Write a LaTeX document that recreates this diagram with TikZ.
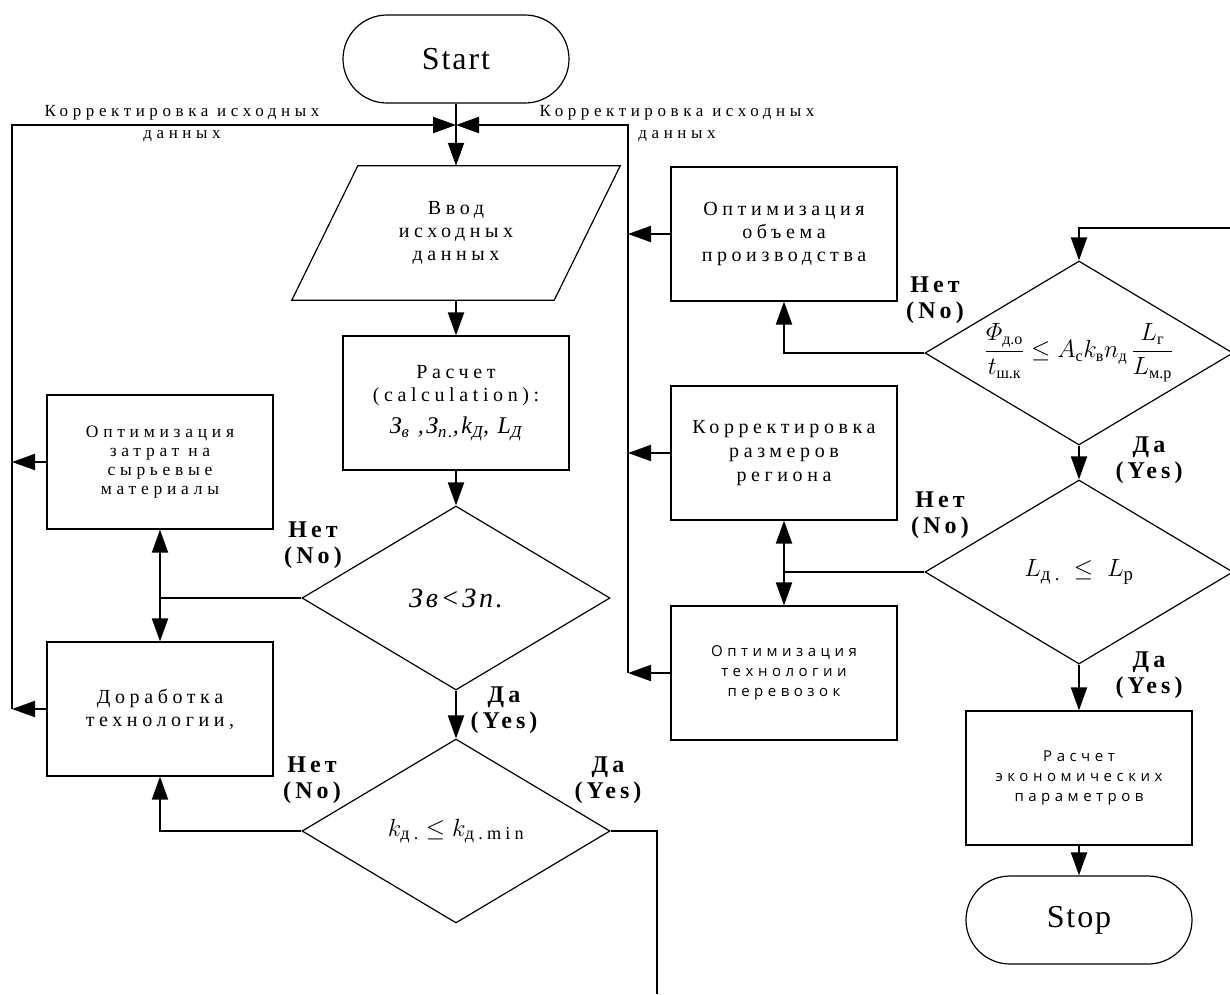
\documentclass[tikz,border=0pt]{standalone}
\usepackage{amsmath}
\usepackage{fontspec}
\setmainfont{Liberation Serif}
\newfontfamily\spcfont{Liberation Serif}[LetterSpace=23]
\newfontfamily\spcsmall{Liberation Serif}[LetterSpace=27]
\newfontfamily\spcsans{Open Sans}[LetterSpace=30]
\newfontfamily\lblfont{Liberation Serif}[LetterSpace=17]
\newfontfamily\termfont{Liberation Serif}[LetterSpace=6]
\newfontfamily\itfont{Liberation Serif}[LetterSpace=10]
\usetikzlibrary{arrows.meta}
\usetikzlibrary{shapes.geometric}
\usetikzlibrary{calc}

\begin{document}
\begin{tikzpicture}[x=1pt, y=-1pt,
        box/.style={draw, line width=1.2pt, minimum width=226pt, minimum height=134pt,
            inner sep=2pt, align=center},
        dec/.style={draw, diamond, aspect=1.67, line width=1.2pt, minimum width=308pt,
            minimum height=184pt, inner sep=0pt, align=center},
        term/.style={draw, line width=1.2pt, rounded corners=44pt, minimum width=226pt,
            minimum height=88pt, font=\termfont\fontsize{32}{36}\selectfont},
        con/.style={line width=2pt},
        arr/.style={line width=2pt, -{Triangle[length=23pt, width=16pt]}},
        yn/.style={font=\lblfont\bfseries\fontsize{24}{26}\selectfont, align=center},
        bigtxt/.style={font=\spcfont\fontsize{20}{23}\selectfont},
        smalltxt/.style={font=\spcsmall\fontsize{17.5}{19}\selectfont},
        sanstxt/.style={font=\spcsans\fontsize{15}{20}\selectfont}]
        \useasboundingbox (0,0) rectangle (1230,994);

        \node[term] (start) at (456,59) {Start};

        \node[minimum width=262pt, minimum height=134pt, inner sep=0pt, align=center,
        bigtxt] (vvod) at (456,233) {Ввод\\исходных\\данных};
        \draw[line width=1.2pt] ($(vvod.north west)+(33,0)$) -- ($(vvod.north east)+(33,0)$)
        -- ($(vvod.south east)+(-33,0)$) -- ($(vvod.south west)+(-33,0)$) -- cycle;

        \node[box, bigtxt] (calc) at (456,403) {Расчет\\(calculation):\\[9pt]
                {\itfont\itshape\fontsize{24}{24}\selectfont
                З\textsubscript{в} ,З\textsubscript{п.},k\textsubscript{Д}, L\textsubscript{Д}}};

        \node[dec, font=\itfont\itshape\fontsize{28}{30}\selectfont] (d1) at (456,598)
        {Зв<Зп.};

        \node[dec, font=\spcfont\fontsize{26}{28}\selectfont] (d2) at (456,831)
        {$k_{\text{д.}}\le k_{\text{д.min}}$};

        \node[box, smalltxt] (opt1) at (160,462)
        {Оптимизация\\затрат на\\сырьевые\\материалы};

        \node[box, bigtxt] (dorab) at (160,709) {Доработка\\технологии,};

        \node[box, bigtxt] (optA) at (784,234) {Оптимизация\\объема\\производства};

        \node[box, font=\spcfont\fontsize{20}{24}\selectfont] (korr) at (784,453)
        {Корректировка\\размеров\\региона};

        \node[box, sanstxt] (optT) at (784,673) {Оптимизация\\технологии\\перевозок};

        \node[dec, font=\rmfamily\fontsize{23}{26}\selectfont] (d3) at (1079,353)
        {$\dfrac{\varPhi_{\text{д.о}}}{t_{\text{ш.к}}}\le
                A_{\text{с}}k_{\text{в}}n_{\text{д}}\,\dfrac{L_{\text{г}}}{L_{\text{м.р}}}$};

        \node[dec, font=\spcfont\fontsize{27}{30}\selectfont] (d4) at (1079,572)
        {$L_{\text{д.}}\;\le\; L_{\text{р}}$};

        \node[box, sanstxt] (econ) at (1079,778) {Расчет\\экономических\\параметров};

        \node[term] (stop) at (1079,920) {Stop};

        \node[font=\spcsmall\fontsize{17}{22}\selectfont, align=center]
        (corrL) at (182,124) {Корректировка исходных\\данных};
        \node[font=\spcsmall\fontsize{17}{22}\selectfont, align=center]
        (corrR) at (677,124) {Корректировка исходных\\данных};

        \node[yn] (no1) at (313,545) {Нет\\(No)};
        \node[yn] (yes1) at (504,710) {Да\\(Yes)};
        \node[yn] (no2) at (312,780) {Нет\\(No)};
        \node[yn] (yes2) at (608,780) {Да\\(Yes)};
        \node[yn] (no3) at (935,300) {Нет\\(No)};
        \node[yn] (yes3) at (1149,460) {Да\\(Yes)};
        \node[yn] (no4) at (940,515) {Нет\\(No)};
        \node[yn] (yes4) at (1149,675) {Да\\(Yes)};

        \coordinate (jn) at (456,125);
        \coordinate (lt) at (12,125); \coordinate (lb) at (12,709);
        \coordinate (rt) at (628,125); \coordinate (rb) at (628,673);
        \coordinate (pg1) at (657,994); \coordinate (pg2) at (1230,228);

        \draw[con] (start) -- (jn);
        \draw[arr] (jn) -- (vvod);
        \draw[arr] (lb) -- (lt) -- (jn);
        \draw[arr] (rb) -- (rt) -- (jn);

        \draw[arr] (opt1.west) -- (opt1.west -| lt);
        \draw[arr] (dorab.west) -- (lb);
        \draw[arr] (optA.west) -- (optA.west -| rt);
        \draw[arr] (korr.west) -- (korr.west -| rt);
        \draw[arr] (optT.west) -- (rb);

        \draw[arr] (vvod) -- (calc);
        \draw[arr] (calc) -- (d1);
        \coordinate (b1) at (d1.west -| opt1.south);
        \draw[con] (d1.west) -- (b1);
        \draw[arr] (b1) -- (opt1.south);
        \draw[arr] (b1) -- (dorab.north);
        \draw[arr] (d1) -- (d2);
        \draw[arr] (d2.west) -| (dorab.south);
        \draw[con] (d2.east) -| (pg1);

        \draw[arr] (pg2) -| (d3.north);
        \draw[arr] (d3.west) -| (optA.south);
        \draw[arr] (d3) -- (d4);
        \coordinate (b2) at (d4.west -| korr.south);
        \draw[con] (d4.west) -- (b2);
        \draw[arr] (b2) -- (korr.south);
        \draw[arr] (b2) -- (optT.north);
        \draw[arr] (d4) -- (econ);
        \draw[arr] (econ) -- (stop);
\end{tikzpicture}
\end{document}
